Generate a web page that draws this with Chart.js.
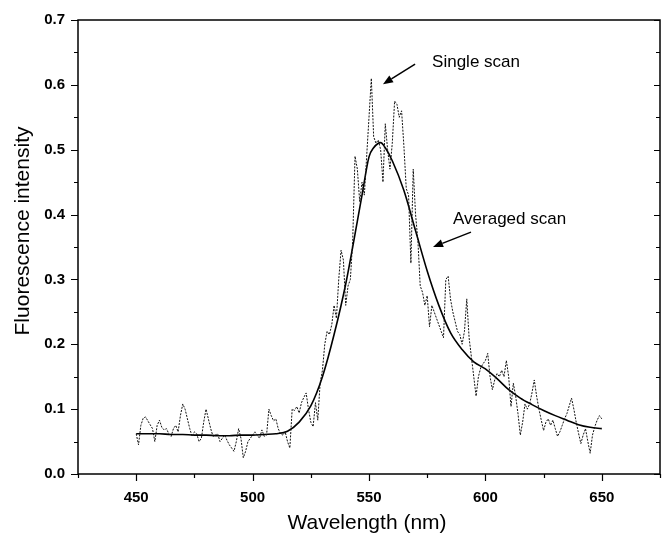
<!DOCTYPE html>
<html><head><meta charset="utf-8">
<script src="https://cdn.jsdelivr.net/npm/chart.js@4.4.0/dist/chart.umd.min.js"></script>
<style>html,body{margin:0;padding:0;background:#fff}#wrap{width:664px;height:541px}</style>
</head><body><div id="wrap"><canvas id="c" width="664" height="541"></canvas></div>
<script>
const singleWavelength = [
450,451,452,453,454,455,456,457,458,459,
460,461,462,463,464,465,466,467,468,469,
470,471,472,473,474,475,476,477,478,479,
480,481,482,483,484,485,486,487,488,489,
490,491,492,493,494,495,496,497,498,499,
500,501,502,503,504,505,506,507,508,509,
510,511,512,513,514,515,516,517,518,519,
520,521,522,523,524,525,526,527,528,529,
530,531,532,533,534,535,536,537,538,539,
540,541,542,543,544,545,546,547,548,549,
550,551,552,553,554,555,556,557,558,559,
560,561,562,563,564,565,566,567,568,569,
570,571,572,573,574,575,576,577,578,579,
580,581,582,583,584,585,586,587,588,589,
590,591,592,593,594,595,596,597,598,599,
600,601,602,603,604,605,606,607,608,609,
610,611,612,613,614,615,616,617,618,619,
620,621,622,623,624,625,626,627,628,629,
630,631,632,633,634,635,636,637,638,639,
640,641,642,643,644,645,646,647,648,649,
650];
const singleIntensity = [
0.062,0.045,0.075,0.086,0.088,0.082,0.076,0.070,0.050,0.075,
0.083,0.072,0.068,0.070,0.062,0.058,0.070,0.075,0.065,0.090,
0.108,0.100,0.085,0.070,0.058,0.065,0.062,0.050,0.055,0.080,
0.100,0.085,0.070,0.058,0.060,0.062,0.050,0.055,0.060,0.052,
0.045,0.040,0.035,0.050,0.070,0.055,0.025,0.035,0.050,0.055,
0.060,0.065,0.060,0.055,0.068,0.058,0.060,0.100,0.090,0.082,
0.085,0.070,0.062,0.060,0.065,0.050,0.040,0.100,0.098,0.104,
0.094,0.110,0.118,0.125,0.100,0.080,0.073,0.110,0.083,0.140,
0.160,0.200,0.220,0.215,0.230,0.260,0.240,0.300,0.345,0.330,
0.260,0.290,0.300,0.360,0.490,0.470,0.420,0.450,0.430,0.490,
0.550,0.610,0.520,0.510,0.515,0.500,0.450,0.540,0.500,0.470,
0.510,0.575,0.570,0.550,0.560,0.505,0.440,0.430,0.325,0.470,
0.400,0.360,0.290,0.280,0.260,0.275,0.227,0.260,0.250,0.240,
0.230,0.220,0.210,0.300,0.305,0.270,0.250,0.235,0.220,0.215,
0.200,0.220,0.270,0.210,0.180,0.150,0.120,0.150,0.164,0.170,
0.175,0.186,0.150,0.130,0.145,0.155,0.150,0.160,0.150,0.175,
0.150,0.104,0.140,0.120,0.093,0.060,0.080,0.108,0.100,0.108,
0.125,0.145,0.120,0.100,0.083,0.067,0.080,0.085,0.075,0.083,
0.070,0.058,0.065,0.075,0.085,0.093,0.105,0.117,0.100,0.080,
0.063,0.047,0.060,0.070,0.050,0.032,0.060,0.073,0.083,0.090,
0.085];
const averagedWavelength = [450,455,460,465,470,475,480,485,490,495,500,505,510,515,520,525,530,535,540,545,547,550,552,554,555,557,560,565,570,575,580,585,590,595,600,605,610,615,620,625,630,635,640,645,650];
const averagedIntensity  = [0.062,0.062,0.062,0.061,0.061,0.060,0.060,0.059,0.059,0.060,0.060,0.061,0.062,0.066,0.080,0.105,0.150,0.215,0.293,0.390,0.430,0.489,0.503,0.510,0.511,0.503,0.483,0.437,0.375,0.313,0.260,0.218,0.192,0.173,0.162,0.147,0.130,0.117,0.107,0.098,0.090,0.083,0.076,0.072,0.070];

const xMajorTicks = [450, 500, 550, 600, 650];
const yMajorTicks = [0.0, 0.1, 0.2, 0.3, 0.4, 0.5, 0.6, 0.7];
const xTitle = 'Wavelength (nm)';
const yTitle = 'Fluorescence intensity';

const annotations = [
  {text:'Single scan', textX:577.1, textY:0.635, tailX:569.8, tailY:0.632, tipX:556.0, tipY:0.601},
  {text:'Averaged scan', textX:586.1, textY:0.392, tailX:593.8, tailY:0.373, tipX:577.5, tipY:0.350}
];

const FONT = '"Liberation Sans", Arial, Helvetica, sans-serif';

function isMajorX(v){ return xMajorTicks.some(t => Math.abs(t - v) < 1e-6); }
function isMajorY(v){ return yMajorTicks.some(t => Math.abs(t - v) < 1e-6); }

const decor = {
  id:'decor',
  afterDraw(chart){
    const ctx = chart.ctx, a = chart.chartArea, xs = chart.scales.x, ys = chart.scales.y;
    ctx.save();
    ctx.strokeStyle = '#000';
    ctx.lineWidth = 1.5;
    ctx.strokeRect(a.left, a.top, a.right - a.left, a.bottom - a.top);
    ctx.lineWidth = 1.2;
    ctx.beginPath();
    xs.ticks.forEach(t => {
      const px = Math.round(xs.getPixelForValue(t.value)) + 0.5;
      const len = isMajorX(t.value) ? 7 : 4;
      ctx.moveTo(px, a.bottom); ctx.lineTo(px, a.bottom + len);
    });
    ys.ticks.forEach(t => {
      const py = Math.round(ys.getPixelForValue(t.value)) + 0.5;
      const len = isMajorY(t.value) ? 7 : 4;
      ctx.moveTo(a.left, py); ctx.lineTo(a.left - len, py);
      ctx.moveTo(a.right, py); ctx.lineTo(a.right - (isMajorY(t.value) ? 6 : 4), py);
    });
    ctx.stroke();

    // axis titles
    ctx.fillStyle = '#000';
    ctx.font = '21px ' + FONT;
    ctx.textAlign = 'center';
    ctx.textBaseline = 'middle';
    ctx.fillText(xTitle, 367, 523);
    ctx.save();
    ctx.translate(23, 231);
    ctx.rotate(-Math.PI / 2);
    ctx.fillText(yTitle, 0, 0);
    ctx.restore();

    // annotations
    ctx.font = '17px ' + FONT;
    ctx.textAlign = 'left';
    annotations.forEach(an => {
      ctx.fillText(an.text, xs.getPixelForValue(an.textX), ys.getPixelForValue(an.textY));
      const x1 = xs.getPixelForValue(an.tailX), y1 = ys.getPixelForValue(an.tailY);
      const x2 = xs.getPixelForValue(an.tipX), y2 = ys.getPixelForValue(an.tipY);
      const ang = Math.atan2(y2 - y1, x2 - x1);
      const hl = 10, hw = 4;
      const bx = x2 - hl * Math.cos(ang), by = y2 - hl * Math.sin(ang);
      ctx.lineWidth = 1.5;
      ctx.beginPath(); ctx.moveTo(x1, y1); ctx.lineTo(bx, by); ctx.stroke();
      ctx.beginPath();
      ctx.moveTo(x2, y2);
      ctx.lineTo(bx + hw * Math.sin(ang), by - hw * Math.cos(ang));
      ctx.lineTo(bx - hw * Math.sin(ang), by + hw * Math.cos(ang));
      ctx.closePath(); ctx.fill();
    });
    ctx.restore();
  }
};

new Chart(document.getElementById('c'), {
  type:'line',
  data:{
    datasets:[
      {label:'Single scan', data: singleWavelength.map((x,i)=>({x, y: singleIntensity[i]})),
       borderColor:'#111', borderWidth:1, borderDash:[2,1.3], pointRadius:0, tension:0, fill:false},
      {label:'Averaged scan', data: averagedWavelength.map((x,i)=>({x, y: averagedIntensity[i]})),
       borderColor:'#000', borderWidth:1.6, pointRadius:0, cubicInterpolationMode:'monotone', fill:false}
    ]
  },
  options:{
    responsive:false, animation:false, devicePixelRatio:1,
    layout:{padding:{left:0, right:4, top:20, bottom:0}},
    plugins:{legend:{display:false}, tooltip:{enabled:false}},
    scales:{
      x:{type:'linear', min:425, max:675,
         grid:{display:false, drawTicks:false}, border:{display:false},
         ticks:{stepSize:25, autoSkip:false, maxRotation:0, padding:15, color:'#000',
                font:{family:FONT, size:15, weight:'bold'},
                callback:v => isMajorX(v) ? String(v) : ''},
         afterFit:s => { s.height = 67; s.paddingLeft = 0; s.paddingRight = 0; }},
      y:{type:'linear', min:0, max:0.7,
         grid:{display:false, drawTicks:false}, border:{display:false},
         ticks:{stepSize:0.05, autoSkip:false, padding:13, color:'#000',
                font:{family:FONT, size:15, weight:'bold'},
                callback:v => isMajorY(v) ? v.toFixed(1) : ''},
         afterFit:s => { s.width = 78; s.paddingTop = 0; s.paddingBottom = 0; }}
    }
  },
  plugins:[decor]
});
</script></body></html>
